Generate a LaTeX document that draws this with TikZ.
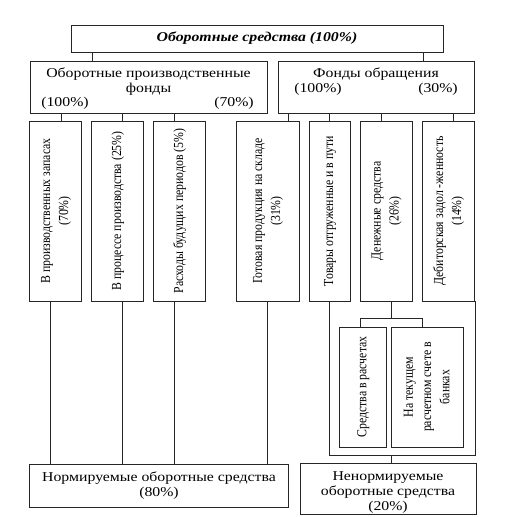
\documentclass[tikz,border=0pt]{standalone}
\usepackage{fontspec}
\usepackage{graphicx}
\setmainfont{Liberation Serif}
\newcommand{\hlab}[1]{\scalebox{1.17}[1]{\begin{tabular}{@{}c@{}}#1\end{tabular}}}
\newcommand{\vlab}[1]{\rotatebox{90}{\scalebox{1}[1.17]{\begin{tabular}{@{}c@{}}#1\end{tabular}}}}
\begin{document}
\begin{tikzpicture}[x=1pt,y=-1pt,line width=0.8pt,
  box/.style={draw=black!85, inner sep=0pt},
  txt/.style={inner sep=0pt, font=\fontsize{13.5}{15}\selectfont},
  vtxt/.style={inner sep=0pt, font=\fontsize{11.8}{15.5}\selectfont},
  conn/.style={draw=black!85, line width=0.8pt}]
\useasboundingbox (0,0) rectangle (505,517);
% top
\node[box, minimum width=372pt, minimum height=27pt, font=\bfseries\itshape\fontsize{13.5}{15}\selectfont] (T) at (257,38.5) {\hlab{Оборотные средства (100\%)}};
% second level
\node[box, minimum width=237pt, minimum height=52pt] (L) at (148.5,87) {};
\node[box, minimum width=196pt, minimum height=52pt] (R) at (376,87) {};
\node[txt] (Lt) at (148.5,81.5) {\hlab{Оборотные производственные\\фонды}};
\node[txt] (Lp1) at (65,103) {\hlab{(100\%)}};
\node[txt] (Lp2) at (234,103) {\hlab{(70\%)}};
\node[txt] (Rt) at (376,74) {\hlab{Фонды обращения}};
\node[txt] (Rp1) at (318,89) {\hlab{(100\%)}};
\node[txt] (Rp2) at (438,89) {\hlab{(30\%)}};
% vertical boxes
\node[box, vtxt, minimum width=52pt, minimum height=180pt] (B1) at (55.5,211) {\vlab{В производственных запасах\\(70\%)}};
\node[box, vtxt, minimum width=52pt, minimum height=180pt] (B2) at (117.5,211) {\vlab{В процессе производства (25\%)}};
\node[box, vtxt, minimum width=52pt, minimum height=180pt] (B3) at (179.5,211) {\vlab{Расходы будущих периодов (5\%)}};
\node[box, vtxt, minimum width=63pt, minimum height=180pt] (B4) at (267.5,211) {\vlab{Готовая продукция на складе\\(31\%)}};
\node[box, vtxt, minimum width=41pt, minimum height=180pt] (B5) at (329.5,211) {\vlab{Товары отгруженные и в пути}};
\node[box, vtxt, minimum width=52pt, minimum height=180pt] (B6) at (386,211) {\vlab{Денежные средства\\(26\%)}};
\node[box, vtxt, minimum width=52pt, minimum height=180pt] (B7) at (448.5,211) {\vlab{Дебиторская задол -женность\\(14\%)}};
% small boxes
\node[box, vtxt, minimum width=46.5pt, minimum height=120pt] (Sa) at (362.75,387) {\vlab{Средства в расчетах}};
\node[box, vtxt, minimum width=72pt, minimum height=120pt] (Sb) at (427.5,387) {\vlab{На текущем\\расчетном счете в\\банках}};
% bottom
\node[box, txt, minimum width=259pt, minimum height=43pt] (N) at (159,485.5) {\hlab{Нормируемые оборотные средства\\(80\%)}};
\node[box, minimum width=176pt, minimum height=51pt] (NN) at (388,488.5) {};
\node[txt] (NNt) at (388,492) {\hlab{Ненормируемые\\оборотные средства\\(20\%)}};
% x positions of connectors
\coordinate (xa) at (92,0);
\coordinate (xb) at (423,0);
\coordinate (x1) at (61,0);
\coordinate (x2) at (122.7,0);
\coordinate (x3) at (174.3,0);
\coordinate (x4) at (288.7,0);
\coordinate (x5) at (329.3,0);
\coordinate (x6) at (381,0);
\coordinate (x7) at (453.3,0);
\coordinate (y1) at (50,0);
\coordinate (K) at (391.7,318.3);
\coordinate (Ka) at (360.7,318.3);
\coordinate (Kb) at (422.7,318.3);
\coordinate (J) at (391.7,455.7);
% connectors
\path[conn] (T.south -| xa) -- (L.north -| xa);
\path[conn] (T.south -| xb) -- (R.north -| xb);
\path[conn] (L.south -| x1) -- (B1.north -| x1);
\path[conn] (L.south -| x2) -- (B2.north -| x2);
\path[conn] (L.south -| x3) -- (B3.north -| x3);
\path[conn] (R.south -| x4) -- (B4.north -| x4);
\path[conn] (R.south -| x5) -- (B5.north -| x5);
\path[conn] (R.south -| x6) -- (B6.north -| x6);
\path[conn] (R.south -| x7) -- (B7.north -| x7);
\path[conn] (B1.south -| y1) -- (N.north -| y1);
\path[conn] (B2.south -| x2) -- (N.north -| x2);
\path[conn] (B3.south -| x3) -- (N.north -| x3);
\path[conn] (B4.south) -- (N.north -| B4.south);
\path[conn] (B6.south -| K) -- (K);
\path[conn] (Sa.north -| Ka) -- (Ka) -- (Kb) -- (Sb.north -| Kb);
\path[conn] (B5.south) -- (B5.south |- J) -- (B7.south east |- J) -- (B7.south east);
\path[conn] (J) -- (NN.north -| J);
\end{tikzpicture}
\end{document}
